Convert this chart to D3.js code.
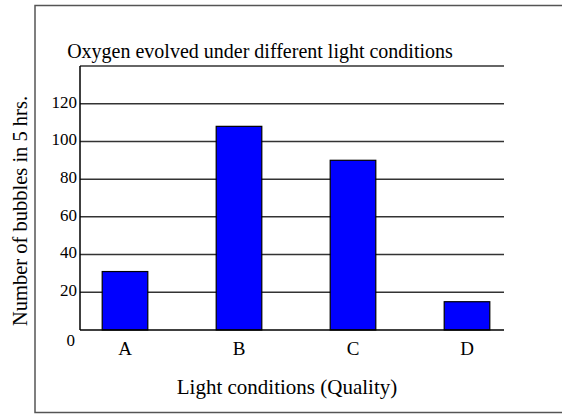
<!DOCTYPE html>
<html>
<head>
<meta charset="utf-8">
<script src="https://cdn.jsdelivr.net/npm/d3@7"></script>
<style>
  body { margin: 0; background: #fff; }
  text { font-family: "Liberation Serif", "Times New Roman", serif; fill: #000; }
</style>
</head>
<body>
<script>
//Data
var categories = ["A", "B", "C", "D"];
var bubbles = [31, 108, 90, 15];
var yTicks = [0, 20, 40, 60, 80, 100, 120];
var yMax = 140;

//Size
var width = 562, height = 414;

var svg = d3.select("body")
    .append("svg")
    .attr("width", width)
    .attr("height", height);

//Outer frame
svg.append("rect")
    .attr("x", 35)
    .attr("y", 5.5)
    .attr("width", 540)
    .attr("height", 407)
    .attr("fill", "none")
    .attr("stroke", "#555")
    .attr("stroke-width", 1.5);

//Plot area
var plot = {left: 80, right: 504, top: 66, bottom: 330};

//Scales
var y = d3.scaleLinear()
    .domain([0, yMax])
    .range([plot.bottom, plot.top]);

var x = d3.scaleBand()
    .domain(categories)
    .range([68, 524])
    .paddingInner(0.6)
    .paddingOuter(0.3);

//Gridlines (top line at 140 has no label)
svg.append("g")
    .selectAll("line")
    .data(yTicks.slice(1).concat([yMax]))
    .enter().append("line")
    .attr("x1", plot.left)
    .attr("x2", plot.right)
    .attr("y1", function(d) { return y(d); })
    .attr("y2", function(d) { return y(d); })
    .attr("stroke", "#333")
    .attr("stroke-width", 1.5);

//Y axis labels
var yAxis = d3.axisLeft(y)
    .tickValues(yTicks)
    .tickSize(0)
    .tickPadding(3);

var gy = svg.append("g")
    .attr("transform", "translate(" + plot.left + ",0)")
    .call(yAxis);
gy.select(".domain").remove();
gy.selectAll("text")
    .style("font-family", "Liberation Serif, serif")
    .style("font-size", "17px")
    .attr("dy", function(d) { return d === 0 ? "0.9em" : "0.2em"; })
    .attr("x", function(d) { return d === 0 ? -5 : -3; });

//Bars
svg.append("g")
    .selectAll("rect")
    .data(bubbles)
    .enter().append("rect")
    .attr("x", function(d, i) { return x(categories[i]); })
    .attr("y", function(d) { return y(d); })
    .attr("width", x.bandwidth())
    .attr("height", function(d) { return y(0) - y(d); })
    .attr("fill", "#0000ff")
    .attr("stroke", "#000")
    .attr("stroke-width", 1.2);

//Axis lines
svg.append("line")
    .attr("x1", plot.left).attr("x2", plot.left)
    .attr("y1", plot.top).attr("y2", plot.bottom)
    .attr("stroke", "#000").attr("stroke-width", 1.5);
svg.append("line")
    .attr("x1", plot.left).attr("x2", plot.right)
    .attr("y1", plot.bottom).attr("y2", plot.bottom)
    .attr("stroke", "#000").attr("stroke-width", 1.5);

//Category labels
var xAxis = d3.axisBottom(x).tickSize(0).tickPadding(12);
var gx = svg.append("g")
    .attr("transform", "translate(0," + plot.bottom + ")")
    .call(xAxis);
gx.select(".domain").remove();
gx.selectAll("text")
    .style("font-family", "Liberation Serif, serif")
    .style("font-size", "19px");

//Title
svg.append("text")
    .attr("x", 260)
    .attr("y", 58)
    .attr("text-anchor", "middle")
    .style("font-size", "20px")
    .text("Oxygen evolved under different light conditions");

//X axis title
svg.append("text")
    .attr("x", 287)
    .attr("y", 394)
    .attr("text-anchor", "middle")
    .style("font-size", "21px")
    .text("Light conditions (Quality)");

//Y axis title
svg.append("text")
    .attr("transform", "translate(27,211) rotate(-90)")
    .attr("text-anchor", "middle")
    .style("font-size", "20.5px")
    .text("Number of bubbles in 5 hrs.");
</script>
</body>
</html>
